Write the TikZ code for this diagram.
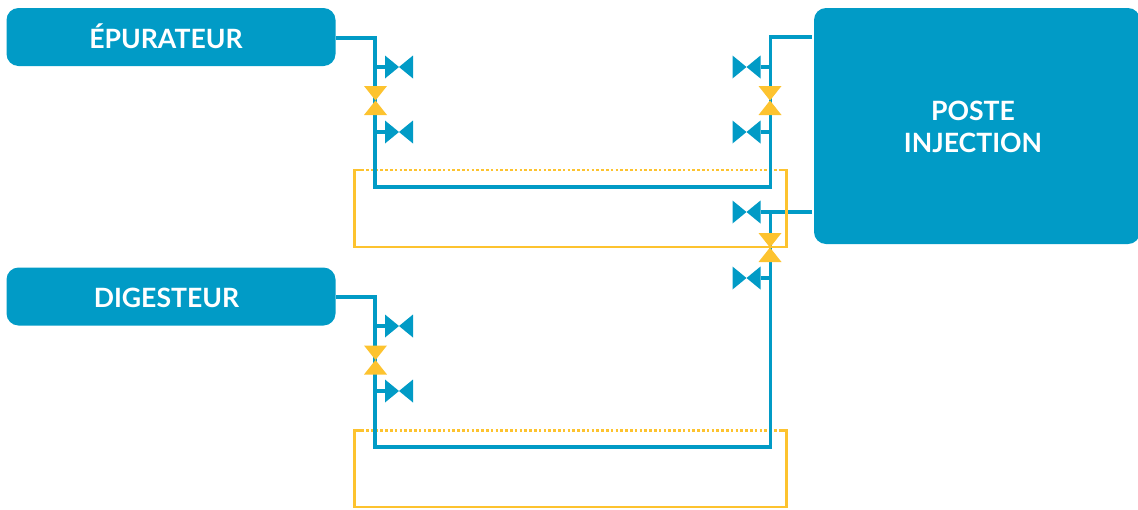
\documentclass[tikz,border=0pt]{standalone}
\usepackage{fontspec}
\setmainfont{Lato}
\definecolor{vblue}{HTML}{019BC6}
\definecolor{vyellow}{HTML}{FDC32F}
\tikzset{
  boxnode/.style={fill=vblue,rounded corners=12pt,inner sep=0pt,outer sep=0pt},
  boxlabel/.style={inner sep=0pt,outer sep=0pt,text=white,align=center,font=\fontsize{26.6}{32}\selectfont\bfseries},
  pipe/.style={draw=vblue,line width=3.4pt,line join=miter},
  loopline/.style={draw=vyellow,line width=2.6pt},
  loopdots/.style={draw=vyellow,line width=2.6pt,dash pattern=on 2.6pt off 2.2pt},
  hvalve/.style={minimum width=28pt,minimum height=23pt,inner sep=0pt,outer sep=0pt,path picture={
    \fill[vblue] (path picture bounding box.north west) -- (path picture bounding box.south west) -- (path picture bounding box.center) -- cycle;
    \fill[vblue] (path picture bounding box.north east) -- (path picture bounding box.south east) -- (path picture bounding box.center) -- cycle;}},
  yvalve/.style={minimum width=23pt,minimum height=29pt,inner sep=0pt,outer sep=0pt,path picture={
    \fill[vyellow] (path picture bounding box.north west) -- (path picture bounding box.north east) -- (path picture bounding box.center) -- cycle;
    \fill[vyellow] (path picture bounding box.south west) -- (path picture bounding box.south east) -- (path picture bounding box.center) -- cycle;}},
}
\begin{document}
\begin{tikzpicture}[x=1pt,y=-1pt]
\useasboundingbox (0,0) rectangle (1138,509);
% boxes
\node[boxnode,minimum width=329pt,minimum height=58pt] (epu) at (171,37) {};
\node[boxnode,minimum width=329pt,minimum height=58pt] (dig) at (171,296.5) {};
\node[boxnode,minimum width=326pt,minimum height=236pt] (post) at (977,126) {};
\node[boxlabel] (epulabel) at (166,36.5) {ÉPURATEUR};
\node[boxlabel] (diglabel) at (166.5,298) {DIGESTEUR};
\node[boxlabel] (postlabel) at (973,126.5) {POSTE\\INJECTION};
% valves
\node[hvalve] (a1) at (399,67) {};
\node[hvalve] (a2) at (399,132) {};
\node[hvalve] (b1) at (746.5,67) {};
\node[hvalve] (b2) at (746.5,132) {};
\node[hvalve] (c1) at (746.5,212) {};
\node[hvalve] (c2) at (746.5,278) {};
\node[hvalve] (d1) at (399,326) {};
\node[hvalve] (d2) at (399,391) {};
% junctions
\coordinate (lt) at (375,38);
\coordinate (lb) at (375,187);
\coordinate (rt) at (770.5,37);
\coordinate (rb) at (770.5,187);
\coordinate (pa) at (812,37);
\coordinate (pb) at (812,212);
\coordinate (mt) at (770.5,212);
\coordinate (dt) at (375,297);
\coordinate (db) at (375,447);
\coordinate (mb) at (770.5,447);
\coordinate (l1a) at (354.5,170);
\coordinate (l1b) at (786.5,170);
\coordinate (l1c) at (786.5,247);
\coordinate (l1d) at (354.5,247);
\coordinate (l2a) at (354.5,430.5);
\coordinate (l2b) at (786.5,430.5);
\coordinate (l2c) at (786.5,507);
\coordinate (l2d) at (354.5,507);
\coordinate (s1) at (366,170);
\coordinate (sa) at (364,170);
\coordinate (s2) at (780,170);
\coordinate (s3) at (366,430.5);
\coordinate (sb) at (364,430.5);
\coordinate (s4) at (780,430.5);
% dotted loop tops
\draw[loopdots] (s1) -- (s2);
\draw[loopdots] (s3) -- (s4);
% pipes
\draw[pipe] (epu.east |- lt) -- (lt) -- (lb) -- (rb) -- (rt) -- (pa);
\draw[pipe] (pb) -- (mt) -- (mb) -- (db) -- (dt) -- (dig.east |- dt);
\draw[pipe] (a1.west) -- (a1.west -| lt);
\draw[pipe] (a2.west) -- (a2.west -| lt);
\draw[pipe] (d1.west) -- (d1.west -| lt);
\draw[pipe] (d2.west) -- (d2.west -| lt);
\draw[pipe] (b1.east) -- (b1.east -| rt);
\draw[pipe] (b2.east) -- (b2.east -| rt);
\draw[pipe] (c1.east) -- (mt);
\draw[pipe] (c2.east) -- (c2.east -| rt);
% yellow loops
\draw[loopline] (s2) -- (l1b) -- (l1c) -- (l1d) -- (l1a) -- (sa);
\draw[loopline] (s4) -- (l2b) -- (l2c) -- (l2d) -- (l2a) -- (sb);
% yellow valves
\node[yvalve] (y1) at (375.5,100.5) {};
\node[yvalve] (y2) at (770,100.5) {};
\node[yvalve] (y3) at (770,247.5) {};
\node[yvalve] (y4) at (375.5,360) {};
\end{tikzpicture}
\end{document}
